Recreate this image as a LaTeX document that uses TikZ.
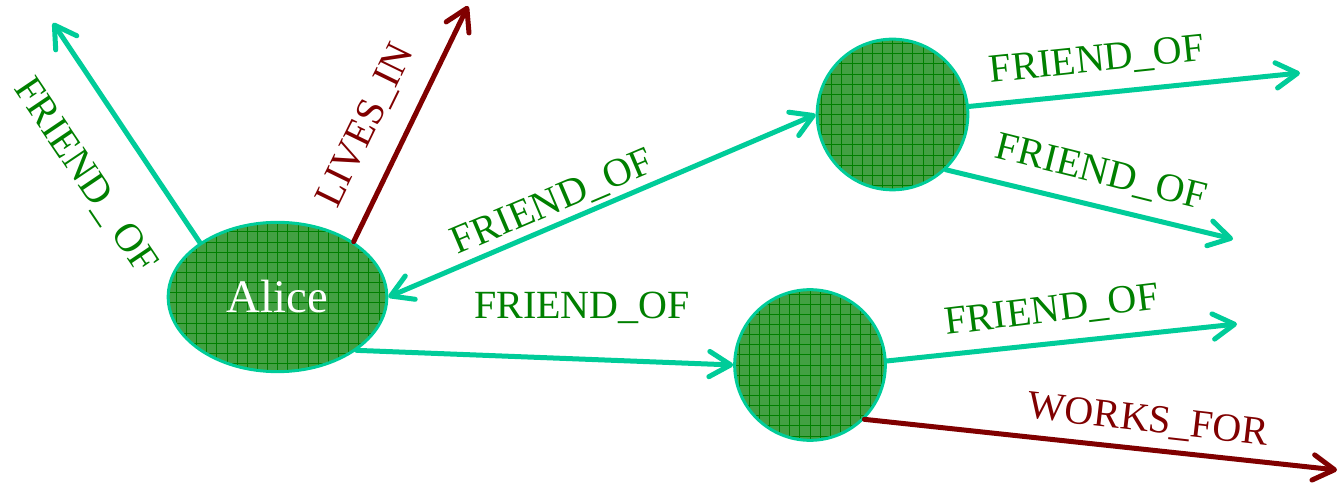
\documentclass[tikz,border=0pt]{standalone}
\usepackage{fontspec}
\setmainfont{Liberation Serif}
\usetikzlibrary{shapes.geometric,arrows.meta}
\definecolor{edgeteal}{RGB}{0,204,153}
\definecolor{labgreen}{RGB}{0,128,0}
\definecolor{maroonc}{RGB}{128,0,0}
\definecolor{nodefill}{RGB}{67,160,67}
\definecolor{gridc}{RGB}{0,128,0}
\tikzset{
  gnode/.style={draw=edgeteal, line width=2.25pt, fill=nodefill, inner sep=0pt,
    path picture={\draw[gridc, line width=0.6pt]
      ([xshift=-2pt,yshift=-2pt]path picture bounding box.south west) grid[step=7.6pt]
      (path picture bounding box.north east);}},
  friend/.style={draw=edgeteal, line width=3.75pt, line cap=round,
    arrows={-Straight Barb[length=16pt,width=19pt,line cap=round,line join=round]}},
  friendboth/.style={friend, arrows={Straight Barb[length=16pt,width=19pt,line cap=round,line join=round]-Straight Barb[length=16pt,width=19pt,line cap=round,line join=round]}},
  other/.style={friend, draw=maroonc},
  lab/.style={font=\fontsize{30}{36}\selectfont, text=labgreen, inner sep=0pt},
  labred/.style={lab, text=maroonc},
}
\begin{document}
\begin{tikzpicture}[x=0.75pt,y=-0.75pt]
\useasboundingbox (0,0) rectangle (1339,484);
% nodes
\node[gnode, ellipse, minimum width=164pt, minimum height=112pt,
  text=white, font=\fontsize{35}{40}\selectfont] (alice) at (277.5,297) {Alice};
\node[gnode, circle, minimum size=113pt] (top) at (892.5,114.5) {};
\node[gnode, circle, minimum size=113pt] (bot) at (810,365) {};
% free ends
\coordinate (c1) at (53,23);
\coordinate (c2) at (468,6);
\coordinate (c3) at (1300,73);
\coordinate (c4) at (1233,239);
\coordinate (c5) at (1237,324);
\coordinate (c6) at (1337,470);
% edges
\draw[friend] (alice.145) -- (c1);
\draw[other] (alice.36) -- (c2);
\draw[friendboth] (alice.east) -- (top.west);
\draw[friend] (alice.-34) -- (bot.west);
\draw[friend] (top.6) -- (c3);
\draw[friend] (top.-46) -- (c4);
\draw[friend] (bot.3) -- (c5);
\draw[other] (bot.-45) -- (c6);
% labels
\node[lab, rotate=-56] (l1) at (85,176) {FRIEND\_ OF};
\node[labred, rotate=64] (l2) at (366,126) {LIVES\_IN};
\node[lab, rotate=23] (l3) at (553,203) {FRIEND\_OF};
\node[lab] (l4) at (582,308) {FRIEND\_OF};
\node[lab, rotate=6] (l5) at (1097,61) {FRIEND\_OF};
\node[lab, rotate=-14] (l6) at (1101,173) {FRIEND\_OF};
\node[lab, rotate=7] (l7) at (1052,311) {FRIEND\_OF};
\node[labred, rotate=-6.5] (l8) at (1148,421) {WORKS\_FOR};
\end{tikzpicture}
\end{document}
